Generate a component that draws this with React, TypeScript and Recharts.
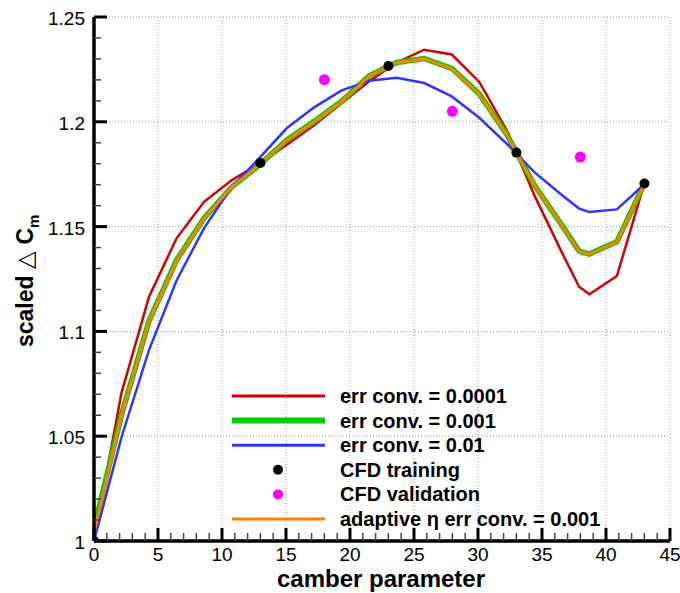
import React from 'react';
import { ComposedChart, Line, XAxis, YAxis, CartesianGrid } from 'recharts';

// camber parameter samples of the surrogate curves
const camber = [0, 2.15, 4.3, 6.45, 8.6, 10.75, 12.9, 15.05, 17.2, 19.35, 21.5, 23.65, 25.8, 27.95, 30.1, 32.25, 34.4, 36.55, 37.9, 38.7, 40.85, 43];

const errConv0001 = [1.0, 1.0707, 1.1166, 1.1444, 1.1618, 1.1721, 1.18, 1.189, 1.1983, 1.2088, 1.2193, 1.2283, 1.2344, 1.2321, 1.219, 1.196, 1.165, 1.1377, 1.1213, 1.1177, 1.1264, 1.1706];
const errConv001 = [1.006, 1.0602, 1.105, 1.134, 1.154, 1.1688, 1.1793, 1.1912, 1.2002, 1.2098, 1.2219, 1.2283, 1.2302, 1.2255, 1.2133, 1.194, 1.1698, 1.1507, 1.1383, 1.1369, 1.1428, 1.1705];
const errConv01 = [1.0, 1.0495, 1.0912, 1.1243, 1.1493, 1.1688, 1.1826, 1.1969, 1.2069, 1.215, 1.2196, 1.221, 1.2185, 1.2121, 1.2019, 1.1895, 1.176, 1.1651, 1.1586, 1.157, 1.1582, 1.1702];
const adaptive001 = [1.004, 1.06, 1.1048, 1.1338, 1.1539, 1.1688, 1.1794, 1.1911, 1.2001, 1.2097, 1.2218, 1.2282, 1.2301, 1.2254, 1.2132, 1.1939, 1.1698, 1.1506, 1.1382, 1.1368, 1.1427, 1.1705];

const trainX = [0, 13, 23, 33, 43];
const trainY = [1.0, 1.1804, 1.2266, 1.1853, 1.1706];
const validX = [18, 28, 38];
const validY = [1.2201, 1.205, 1.1832];

const xTicks = [0, 1, 2, 3, 4, 5, 6, 7, 8, 9, 10, 11, 12, 13, 14, 15, 16, 17, 18, 19, 20, 21, 22, 23, 24, 25, 26, 27, 28, 29, 30, 31, 32, 33, 34, 35, 36, 37, 38, 39, 40, 41, 42, 43, 44, 45];
const xMajor = [0, 5, 10, 15, 20, 25, 30, 35, 40, 45];
const yTicks = [1, 1.01, 1.02, 1.03, 1.04, 1.05, 1.06, 1.07, 1.08, 1.09, 1.1, 1.11, 1.12, 1.13, 1.14, 1.15, 1.16, 1.17, 1.18, 1.19, 1.2, 1.21, 1.22, 1.23, 1.24, 1.25];
const yMajor = [1, 1.05, 1.1, 1.15, 1.2, 1.25];
const yLabels = ['1', '1.05', '1.1', '1.15', '1.2', '1.25'];

const legendNames = ['err conv. = 0.0001', 'err conv. = 0.001', 'err conv. = 0.01', 'CFD training', 'CFD validation', 'adaptive \u03b7 err conv. = 0.001'];

const FONT = '"Liberation Sans", Arial, Helvetica, sans-serif';
const RED = '#d40000';
const GREEN = '#00cc00';
const BLUE = '#3333ff';
const ORANGE = '#ff8000';
const MAGENTA = '#ff00ff';

const curveData = camber.map((x, i) => ({
  x,
  red: errConv0001[i],
  green: errConv001[i],
  blue: errConv01[i],
  orange: adaptive001[i],
}));
const trainData = trainX.map((x, i) => ({ x, pt: trainY[i] }));
const validData = validX.map((x, i) => ({ x, pt: validY[i] }));

const isMajor = (list: number[], v: number) => list.some((m) => Math.abs(m - v) < 1e-6);

const XTick = (props: any) => {
  const { x, y, payload } = props;
  const major = isMajor(xMajor, payload.value);
  return (
    <g>
      <line x1={x} x2={x} y1={y} y2={y - (major ? 13 : 8)} stroke={major ? '#000' : '#444'} strokeWidth={major ? 3 : 1.5} />
      {major && (
        <text x={x} y={y + 20} textAnchor="middle" fontFamily={FONT} fontSize={19} fill="#000">
          {payload.value}
        </text>
      )}
    </g>
  );
};

const YTick = (props: any) => {
  const { x, y, payload } = props;
  const idx = yMajor.findIndex((m) => Math.abs(m - payload.value) < 1e-6);
  const major = idx >= 0;
  return (
    <g>
      <line x1={x} x2={x + (major ? 13 : 7)} y1={y} y2={y} stroke={major ? '#000' : '#444'} strokeWidth={major ? 3 : 1.5} />
      {major && (
        <text x={x - 9} y={y + 8} textAnchor="end" fontFamily={FONT} fontSize={19} fill="#000">
          {yLabels[idx]}
        </text>
      )}
    </g>
  );
};

const Legend = () => {
  const rows = [396, 420.6, 445.2, 469.8, 494.4, 519];
  return (
    <svg width={680} height={593} style={{ position: 'absolute', left: 0, top: 0, pointerEvents: 'none' }}>
      <line x1={232} x2={325} y1={rows[0]} y2={rows[0]} stroke={RED} strokeWidth={3} />
      <line x1={232} x2={325} y1={rows[1]} y2={rows[1]} stroke={GREEN} strokeWidth={6} />
      <line x1={232} x2={325} y1={rows[2]} y2={rows[2]} stroke={BLUE} strokeWidth={3} />
      <circle cx={278} cy={rows[3]} r={5} fill="#000" />
      <circle cx={278} cy={rows[4]} r={5} fill={MAGENTA} />
      <line x1={232} x2={325} y1={rows[5]} y2={rows[5]} stroke={ORANGE} strokeWidth={3} />
      {legendNames.map((name, i) => (
        <text key={name} x={340} y={rows[i] + 7} fontFamily={FONT} fontSize={20} fontWeight="bold" fill="#000">
          {name}
        </text>
      ))}
    </svg>
  );
};

export default function App() {
  return (
    <div style={{ position: 'absolute', left: 0, top: 0, width: 680, height: 593, background: '#fff' }}>
      <ComposedChart width={680} height={593} data={curveData} margin={{ top: 17, right: 10, bottom: 0, left: 0 }}>
        <CartesianGrid
          stroke="#999"
          strokeDasharray="1 2"
          verticalValues={xMajor}
          horizontalValues={yMajor}
        />
        <XAxis
          dataKey="x"
          type="number"
          domain={[0, 45]}
          ticks={xTicks}
          interval={0}
          height={52}
          tickSize={0}
          tickMargin={0}
          tickLine={false}
          axisLine={{ stroke: '#000', strokeWidth: 3.5 }}
          tick={<XTick />}
          allowDataOverflow
        />
        <YAxis
          type="number"
          domain={[1, 1.25]}
          ticks={yTicks}
          interval={0}
          width={94}
          tickSize={0}
          tickMargin={0}
          tickLine={false}
          axisLine={{ stroke: '#000', strokeWidth: 3.5 }}
          tick={<YTick />}
          allowDataOverflow
        />
        <Line dataKey="red" stroke={RED} strokeWidth={2.5} dot={false} isAnimationActive={false} />
        <Line dataKey="green" stroke={GREEN} strokeWidth={5.5} dot={false} isAnimationActive={false} />
        <Line dataKey="blue" stroke={BLUE} strokeWidth={2.5} dot={false} isAnimationActive={false} />
        <Line dataKey="orange" stroke={ORANGE} strokeWidth={3} dot={false} isAnimationActive={false} />
        <Line data={trainData} dataKey="pt" stroke="none" dot={{ r: 5, fill: '#000', stroke: 'none' }} isAnimationActive={false} />
        <Line data={validData} dataKey="pt" stroke="none" dot={{ r: 5.5, fill: MAGENTA, stroke: 'none' }} isAnimationActive={false} />
      </ComposedChart>
      <Legend />
      <svg width={680} height={593} style={{ position: 'absolute', left: 0, top: 0, pointerEvents: 'none' }}>
        <text x={381} y={587} textAnchor="middle" fontFamily={FONT} fontSize={24} fontWeight="bold">
          camber parameter
        </text>
        <text transform="translate(33,347) rotate(-90)" fontFamily={FONT} fontSize={23} fontWeight="bold">
          scaled <tspan fontWeight="normal">{'\u25b3'}</tspan> C<tspan fontSize={15} dy={6}>m</tspan>
        </text>
      </svg>
    </div>
  );
}
